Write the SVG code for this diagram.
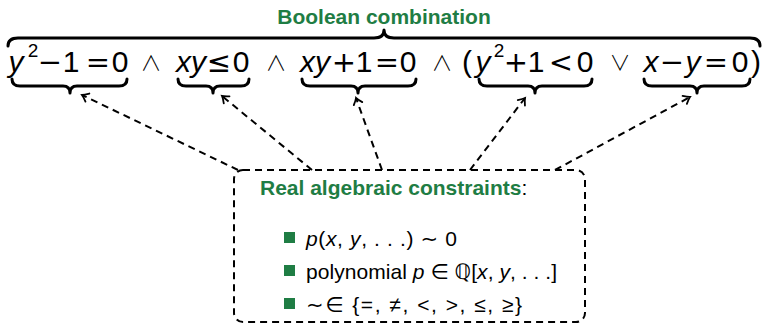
<svg xmlns="http://www.w3.org/2000/svg" width="764" height="325" viewBox="0 0 764 325">
<style>
.t{font-family:"Liberation Sans","DejaVu Sans",sans-serif;fill:#000}
.f{font-size:30px;text-anchor:middle}
.i{font-style:italic}
.op{font-family:"DejaVu Sans",sans-serif;font-size:29px;text-anchor:middle}
.lg{font-family:"Noto Sans CJK SC","DejaVu Sans",sans-serif;font-weight:300;font-size:21px;text-anchor:middle}
.sup{font-size:19px;text-anchor:middle}
.g{fill:#1f7d44}
.h{font-weight:bold;font-size:21px}
.b{font-size:21px}
.brace{fill:none;stroke:#000;stroke-width:3;stroke-linecap:round;stroke-linejoin:round}
.dash{fill:none;stroke:#000;stroke-width:2;stroke-dasharray:7 5}
</style>
<defs>
<marker id="ah" markerUnits="userSpaceOnUse" markerWidth="14" markerHeight="14" refX="0" refY="0" viewBox="-8 -7 10 14" orient="auto">
<path d="M-6,-4.5 Q-2,-1 0,0 Q-2,1 -6,4.5" fill="none" stroke="#000" stroke-width="1.8" stroke-linecap="round"/>
</marker>
</defs>

<g id="title">
<text class="t h g" x="384" y="24" text-anchor="middle">Boolean combination</text>
</g>

<g id="overbrace">
<path class="brace" d="M8,46 Q8,38 18,38 L374,38 Q384,38 384,30 Q384,38 394,38 L750,38 Q760,38 760,46"/>
</g>

<g id="formula">
<text class="t f i" x="16" y="72">y</text>
<text class="t sup" x="33" y="57">2</text>
<text class="op" x="50" y="72">−</text>
<text class="t f" x="71" y="72">1</text>
<text class="op" x="98" y="72">=</text>
<text class="t f" x="120" y="72">0</text>
<text class="lg" x="151" y="70">∧</text>
<text class="t f i" x="191" y="72">xy</text>
<text class="op" x="219" y="72">≤</text>
<text class="t f" x="241" y="72">0</text>
<text class="lg" x="276" y="70">∧</text>
<text class="t f i" x="315" y="72">xy</text>
<text class="op" x="344" y="72">+</text>
<text class="t f" x="364" y="72">1</text>
<text class="op" x="387" y="72">=</text>
<text class="t f" x="408" y="72">0</text>
<text class="lg" x="442" y="70">∧</text>
<text class="t f" x="467" y="72">(</text>
<text class="t f i" x="483" y="72">y</text>
<text class="t sup" x="499" y="57">2</text>
<text class="op" x="516" y="72">+</text>
<text class="t f" x="536" y="72">1</text>
<text class="op" x="561" y="72">&lt;</text>
<text class="t f" x="585" y="72">0</text>
<text class="lg" x="620" y="70">∨</text>
<text class="t f i" x="651" y="72">x</text>
<text class="op" x="672" y="72">−</text>
<text class="t f i" x="693" y="72">y</text>
<text class="op" x="716" y="72">=</text>
<text class="t f" x="740" y="72">0</text>
<text class="t f" x="756" y="72">)</text>
</g>

<g id="underbraces">
<path class="brace" d="M12,79 Q12,86 20,86 L63,86 Q70,86 70,93 Q70,86 77,86 L119,86 Q127,86 127,79"/>
<path class="brace" d="M178,79 Q178,86 186,86 L206,86 Q213,86 213,93 Q213,86 220,86 L241,86 Q249,86 249,79"/>
<path class="brace" d="M302,79 Q302,86 310,86 L351,86 Q358,86 358,93 Q358,86 365,86 L408,86 Q416,86 416,79"/>
<path class="brace" d="M479,79 Q479,86 487,86 L528,86 Q535,86 535,93 Q535,86 542,86 L584,86 Q592,86 592,79"/>
<path class="brace" d="M644,79 Q644,86 652,86 L690,86 Q697,86 697,93 Q697,86 704,86 L742,86 Q750,86 750,79"/>
</g>

<g id="connectors">
<line class="dash" x1="238" y1="170" x2="82" y2="95" marker-end="url(#ah)"/>
<line class="dash" x1="312" y1="170" x2="222" y2="96" marker-end="url(#ah)"/>
<line class="dash" x1="382" y1="170" x2="356" y2="98" marker-end="url(#ah)"/>
<line class="dash" x1="470" y1="170" x2="525" y2="98" marker-end="url(#ah)"/>
<line class="dash" x1="555" y1="170" x2="690" y2="97" marker-end="url(#ah)"/>
</g>

<g id="constraints">
<rect class="dash" x="234" y="170" width="351" height="152" rx="9"/>
<text class="t h" x="260" y="195"><tspan class="g">Real algebraic constraints</tspan><tspan font-weight="normal">:</tspan></text>
<rect class="g" x="284" y="232" width="11" height="11"/>
<rect class="g" x="284" y="265" width="11" height="11"/>
<rect class="g" x="284" y="298" width="11" height="11"/>
<text class="t b" x="306" y="246" textLength="151" lengthAdjust="spacing"><tspan class="i">p</tspan>(<tspan class="i">x</tspan>,  <tspan class="i">y</tspan>, . . .) ∼ 0</text>
<text class="t b" x="306" y="279" textLength="251" lengthAdjust="spacing">polynomial <tspan class="i">p</tspan> ∈ ℚ[<tspan class="i">x</tspan>,  <tspan class="i">y</tspan>, . . .]</text>
<text class="t b" x="306" y="312" textLength="216" lengthAdjust="spacing">∼∈ {=, ≠, &lt;, &gt;, ≤, ≥}</text>
</g>
</svg>
